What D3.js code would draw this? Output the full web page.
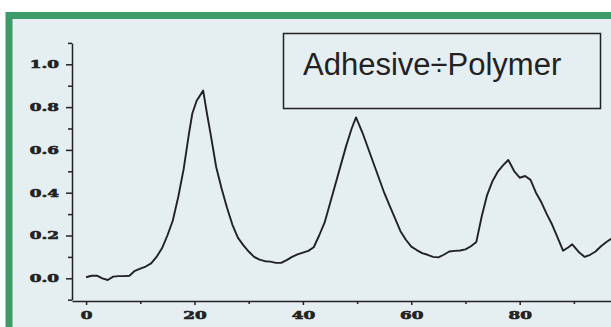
<!DOCTYPE html>
<html>
<head>
<meta charset="utf-8">
<script src="https://cdn.jsdelivr.net/npm/d3@7"></script>
<style>
  body { margin: 0; background: #fff; }
  svg { display: block; }
</style>
</head>
<body>
<div id="chart"></div>
<script>
// absorbance trace
const xVals = [0, 1, 2, 3, 4, 5, 6, 7, 8, 9, 10, 11, 12, 13, 14, 15, 16, 17, 18, 19, 19.6, 20.4, 21.6,
  22.3, 23, 24, 25, 26, 27, 28, 29, 30, 31, 32, 33, 34, 35, 36, 37, 38, 39, 40, 41, 42, 43, 44,
  45, 46, 47, 48, 49, 49.8, 51, 52, 53, 54, 55, 56, 57, 58, 59, 60, 61, 62, 63, 64, 65, 66, 67,
  68, 69, 70, 71, 72, 73, 74, 75, 76, 77, 77.9, 79, 80, 81, 82, 83, 84, 85, 86, 87, 88, 89,
  89.7, 91, 92, 93, 94, 95, 96, 97, 98];
const yVals = [0.005, 0.012, 0.012, 0.0, -0.008, 0.008, 0.01, 0.01, 0.012, 0.035, 0.045, 0.055, 0.07,
  0.10, 0.14, 0.2, 0.27, 0.38, 0.51, 0.68, 0.77, 0.83, 0.877,
  0.77, 0.67, 0.52, 0.42, 0.33, 0.25, 0.19, 0.155, 0.125, 0.1, 0.087, 0.08, 0.078, 0.072, 0.072,
  0.085, 0.1, 0.112, 0.12, 0.128, 0.145, 0.2, 0.26,
  0.35, 0.44, 0.53, 0.62, 0.70, 0.752, 0.68, 0.61, 0.54, 0.47, 0.4, 0.34, 0.28, 0.22, 0.18, 0.148,
  0.132, 0.118, 0.11, 0.1, 0.098, 0.11, 0.125,
  0.128, 0.13, 0.135, 0.15, 0.17, 0.29, 0.39, 0.455, 0.5, 0.53, 0.553, 0.5, 0.47, 0.478, 0.46, 0.4,
  0.355, 0.30, 0.25, 0.19, 0.129, 0.145,
  0.159, 0.12, 0.1, 0.11, 0.125, 0.15, 0.17, 0.187, 0.2];

const yMajor = [0, 0.2, 0.4, 0.6, 0.8, 1.0];
const yMinor = [-0.1, 0.1, 0.3, 0.5, 0.7, 0.9, 1.1];
const xMajor = [0, 20, 40, 60, 80];
const xMinor = [10, 30, 50, 70, 90];
const legendLabel = "Adhesive\u00F7Polymer";

const w = 611, h = 327;
const ink = "#222";
const labelStretch = 1.6;

const svg = d3.select("#chart")
  .append("svg")
  .attr("width", w)
  .attr("height", h);

// green frame with pale panel
svg.append("rect")
  .attr("x", 9).attr("y", 15.5)
  .attr("width", w + 20).attr("height", h + 20)
  .attr("fill", "#e5eef1")
  .attr("stroke", "#3d9a69")
  .attr("stroke-width", 7);

const xScale = d3.scaleLinear()
  .domain([-2.6, 100])
  .range([72, 72 + 102.6 * 5.42]);

const yScale = d3.scaleLinear()
  .domain([-0.1, 1.1])
  .range([299.7, 42.9]);

const axisY = 301;

// y axis
const gy = svg.append("g")
  .attr("transform", "translate(72,0)")
  .call(d3.axisLeft(yScale).tickValues(yMajor).tickSize(6).tickSizeOuter(0).tickPadding(7)
    .tickFormat(d3.format(".1f")));
svg.append("g")
  .attr("transform", "translate(72,0)")
  .call(d3.axisLeft(yScale).tickValues(yMinor).tickSize(4).tickSizeOuter(0).tickFormat(""))
  .select(".domain").remove();

// x axis
const gx = svg.append("g")
  .attr("transform", "translate(0," + axisY + ")")
  .call(d3.axisBottom(xScale).tickValues(xMajor).tickSize(4).tickSizeOuter(0).tickPadding(7)
    .tickFormat(d3.format("d")));
svg.append("g")
  .attr("transform", "translate(0," + axisY + ")")
  .call(d3.axisBottom(xScale).tickValues(xMinor).tickSize(3).tickSizeOuter(0).tickFormat(""))
  .select(".domain").remove();

svg.selectAll(".domain").attr("stroke", ink).attr("stroke-width", 1.5);
svg.selectAll(".tick line").attr("stroke", ink).attr("stroke-width", 1.5);

// wide heavy slab labels
svg.selectAll(".tick text")
  .attr("fill", ink)
  .attr("stroke", ink)
  .attr("stroke-width", 0.6)
  .style("font-family", "'DejaVu Serif', serif")
  .style("font-weight", "bold")
  .style("font-size", "10.5px");
gy.selectAll(".tick text")
  .attr("x", -13 / labelStretch)
  .attr("transform", "scale(" + labelStretch + ",1)");
gx.selectAll(".tick text")
  .attr("transform", "scale(" + labelStretch + ",1)");

// trace
const points = xVals.map((x, i) => [x, yVals[i]]);
svg.append("path")
  .datum(points)
  .attr("fill", "none")
  .attr("stroke", ink)
  .attr("stroke-width", 1.9)
  .attr("stroke-linejoin", "round")
  .attr("d", d3.line()
    .x(d => xScale(d[0]))
    .y(d => yScale(d[1])));

// legend box
svg.append("rect")
  .attr("x", 283.5).attr("y", 33.5)
  .attr("width", 317).attr("height", 75)
  .attr("fill", "none")
  .attr("stroke", ink)
  .attr("stroke-width", 1.5);
svg.append("text")
  .attr("x", 303).attr("y", 75)
  .attr("fill", ink)
  .style("font-family", "'Liberation Sans', Arial, sans-serif")
  .style("font-size", "31px")
  .text(legendLabel);
</script>
</body>
</html>
